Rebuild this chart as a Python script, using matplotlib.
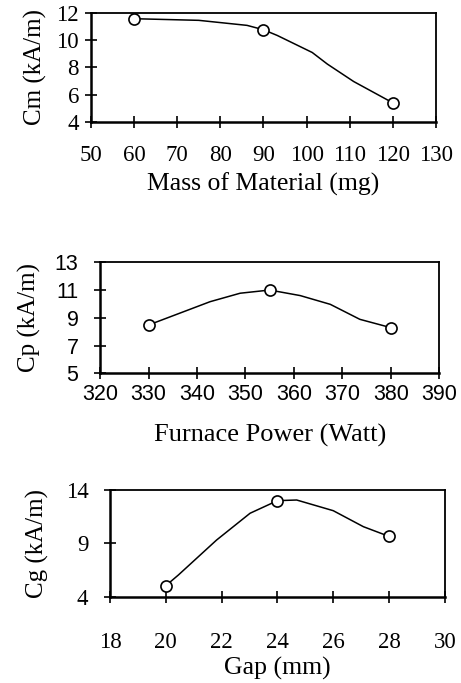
import matplotlib
matplotlib.use("Agg")
import matplotlib.pyplot as plt

# ---- data: measured points ----
mass_x = [60, 90, 120]
mass_y = [11.58, 10.77, 5.4]
# smoothed connecting line
mass_curve_x = [60, 75, 86.2, 90, 93.2, 101.3, 104.8, 110.9, 120]
mass_curve_y = [11.58, 11.46, 11.09, 10.77, 10.35, 9.1, 8.25, 6.97, 5.4]

power_x = [330, 355, 380]
power_y = [8.48, 11.0, 8.29]
power_curve_x = [330, 342.7, 348.9, 355, 361.3, 367.5, 373.6, 380]
power_curve_y = [8.48, 10.16, 10.77, 11.0, 10.6, 9.97, 8.89, 8.29]

gap_x = [20, 24, 28]
gap_y = [5.03, 13.0, 9.65]
gap_curve_x = [20, 20.45, 21.82, 23.02, 24, 24.69, 26.0, 27.08, 28]
gap_curve_y = [5.03, 6.03, 9.31, 11.82, 13.0, 13.06, 12.06, 10.56, 9.65]

mass_xticks = [50, 60, 70, 80, 90, 100, 110, 120, 130]
mass_yticks = [4, 6, 8, 10, 12]
power_xticks = [320, 330, 340, 350, 360, 370, 380, 390]
power_yticks = [5, 7, 9, 11, 13]
gap_xticks = [18, 20, 22, 24, 26, 28, 30]
gap_yticks = [4, 9, 14]

SERIF = "Liberation Serif"
SANS = "Liberation Sans"

fig = plt.figure(figsize=(4.61, 6.83), dpi=100)


def style(ax, tick_font, tick_size, xpad, ypad):
    for s in ["left", "bottom"]:
        ax.spines[s].set_linewidth(1.8)
    for s in ["top", "right"]:
        ax.spines[s].set_linewidth(1.3)
    ax.tick_params(axis="both", direction="inout", length=9, width=1.2,
                   top=False, right=False, labelsize=tick_size)
    ax.tick_params(axis="x", pad=xpad)
    ax.tick_params(axis="y", pad=ypad)
    for lab in ax.get_xticklabels() + ax.get_yticklabels():
        lab.set_family(tick_font)
    ax.set_facecolor("white")


def draw(ax, cx, cy, px, py):
    ax.plot(cx, cy, color="black", lw=1.1, zorder=2)
    ax.plot(px, py, linestyle="none", marker="o", ms=8, mfc="white",
            mec="black", mew=1.2, zorder=3, clip_on=False)


# Panel 1
ax1 = fig.add_axes([0.197, 0.8214, 0.749, 0.1596])
draw(ax1, mass_curve_x, mass_curve_y, mass_x, mass_y)
ax1.set_xlim(50, 130)
ax1.set_ylim(4, 12)
ax1.set_xticks(mass_xticks)
ax1.set_yticks(mass_yticks)
style(ax1, SERIF, 16.5, 12, 4)
ax1.set_ylabel("Cm (kA/m)", family=SERIF, fontsize=18, labelpad=7)
ax1.set_xlabel("Mass of Material (mg)", family=SERIF, fontsize=18.5, labelpad=5)

# Panel 2
ax2 = fig.add_axes([0.217, 0.4534, 0.736, 0.1626])
draw(ax2, power_curve_x, power_curve_y, power_x, power_y)
ax2.set_xlim(320, 390)
ax2.set_ylim(5, 13)
ax2.set_xticks(power_xticks)
ax2.set_yticks(power_yticks)
style(ax2, SANS, 15.5, 3, 11)
ax2.set_ylabel("Cp (kA/m)", family=SERIF, fontsize=18, labelpad=10)
ax2.set_xlabel("Furnace Power (Watt)", family=SERIF, fontsize=19, labelpad=14)

# Panel 3
ax3 = fig.add_axes([0.2386, 0.1264, 0.7264, 0.1562])
draw(ax3, gap_curve_x, gap_curve_y, gap_x, gap_y)
ax3.set_xlim(18, 30)
ax3.set_ylim(4, 14)
ax3.set_xticks(gap_xticks)
ax3.set_yticks(gap_yticks)
style(ax3, SERIF, 16.5, 21, 11)
ax3.set_ylabel("Cg (kA/m)", family=SERIF, fontsize=18, labelpad=12)
ax3.set_xlabel("Gap (mm)", family=SERIF, fontsize=18.5, labelpad=3)

fig.savefig("out.png", dpi=100, facecolor="white")
